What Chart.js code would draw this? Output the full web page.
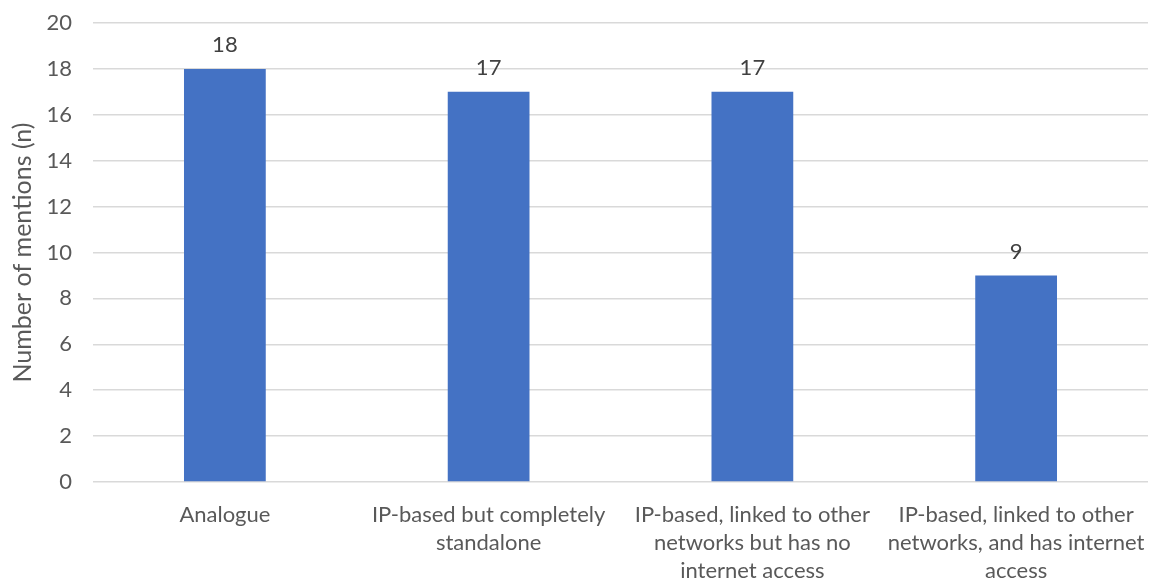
<!DOCTYPE html>
<html>
<head>
<meta charset="utf-8">
<script src="https://cdn.jsdelivr.net/npm/chart.js@4/dist/chart.umd.min.js"></script>
<style>
  html, body { margin: 0; padding: 0; background: #ffffff; }
  #wrap { width: 1157px; height: 581px; position: relative; }
</style>
</head>
<body>
<div id="wrap"><canvas id="c"></canvas></div>
<script>
// Network connection types and how often each was mentioned
const categories = [
  ['Analogue'],
  ['IP-based but completely', 'standalone'],
  ['IP-based, linked to other', 'networks but has no', 'internet access'],
  ['IP-based, linked to other', 'networks, and has internet', 'access']
];
const mentions = [18, 17, 17, 9];
const yTicks = [0, 2, 4, 6, 8, 10, 12, 14, 16, 18, 20];

const FONT = 'Lato, "Open Sans", sans-serif';
const TEXT = '#595959';

// Writes each bar's value just above it
const valueLabels = {
  id: 'valueLabels',
  afterDatasetsDraw(chart) {
    const ctx = chart.ctx;
    const meta = chart.getDatasetMeta(0);
    const data = chart.data.datasets[0].data;
    ctx.save();
    ctx.font = '22px ' + FONT;
    ctx.fillStyle = '#404040';
    ctx.textAlign = 'center';
    ctx.textBaseline = 'middle';
    meta.data.forEach((bar, i) => {
      ctx.fillText(String(data[i]), bar.x, bar.y - 24);
    });
    ctx.restore();
  }
};

new Chart(document.getElementById('c'), {
  type: 'bar',
  data: {
    labels: categories,
    datasets: [{
      data: mentions,
      backgroundColor: '#4472C4',
      borderWidth: 0,
      categoryPercentage: 1,
      barPercentage: 0.31
    }]
  },
  options: {
    responsive: true,
    maintainAspectRatio: false,
    animation: false,
    layout: { padding: { top: 23, right: 9, left: 0, bottom: 0 } },
    plugins: { legend: { display: false }, tooltip: { enabled: false } },
    scales: {
      x: {
        grid: { display: false, drawTicks: false },
        border: { display: false },
        ticks: {
          color: TEXT,
          font: { family: FONT, size: 22, lineHeight: 1.27 },
          padding: 19,
          maxRotation: 0,
          autoSkip: false
        },
        afterFit(scale) {
          scale.height = 99;
          scale.paddingLeft = 0;
          scale.paddingRight = 0;
        }
      },
      y: {
        min: 0,
        max: 20,
        afterBuildTicks(scale) { scale.ticks = yTicks.map(v => ({ value: v })); },
        grid: { color: '#d9d9d9', lineWidth: 1.5, drawTicks: false },
        border: { display: false },
        ticks: {
          color: TEXT,
          font: { family: FONT, size: 22 },
          padding: 21
        },
        title: {
          display: true,
          text: 'Number of mentions (n)',
          color: TEXT,
          font: { family: FONT, size: 25 },
          padding: { top: 8, bottom: 0 }
        },
        afterFit(scale) {
          scale.width = 93;
          scale.paddingTop = 0;
          scale.paddingBottom = 0;
        }
      }
    }
  },
  plugins: [valueLabels]
});
</script>
</body>
</html>
